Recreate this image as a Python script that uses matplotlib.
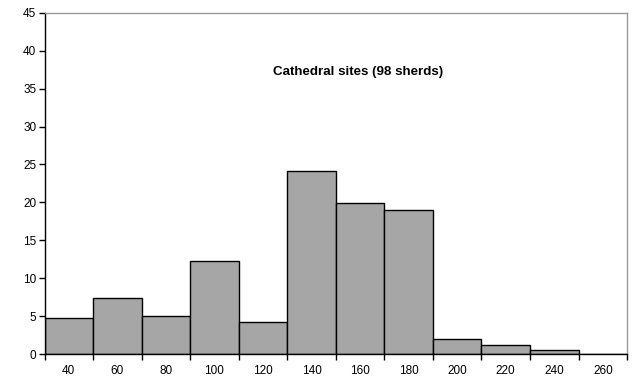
import matplotlib
matplotlib.use("Agg")
import matplotlib.pyplot as plt
import numpy as np

plt.rcParams['font.family'] = ['Liberation Sans', 'DejaVu Sans']

categories = ["40", "60", "80", "100", "120", "140", "160", "180", "200", "220", "240", "260"]
values = [4.8, 7.4, 5.05, 12.25, 4.2, 24.15, 19.9, 19.0, 1.93, 1.14, 0.48, 0.0]
title = "Cathedral sites (98 sherds)"

fig = plt.figure(figsize=(6.36, 3.83), dpi=100)
ax = fig.add_axes([0.070, 0.0757, 0.916, 0.891])

x = np.arange(len(categories))
ax.bar(x, values, width=1.0, color="#a6a6a6", edgecolor="black", linewidth=1.0)

ax.set_xlim(-0.5, len(categories) - 0.5)
ax.set_ylim(0, 45)
ax.set_yticks(np.arange(0, 46, 5))

ax.set_xticks(np.arange(-0.5, len(categories) + 0.5, 1.0))
ax.set_xticklabels([])
ax.set_xticks(x, minor=True)
ax.set_xticklabels(categories, minor=True)
ax.tick_params(axis='x', which='minor', length=0, pad=8, labelsize=8.5)
ax.tick_params(axis='x', which='major', length=4, direction='out', width=1)
ax.tick_params(axis='y', length=4, direction='out', width=1, labelsize=8.5, pad=2)

for s in ['left', 'bottom']:
    ax.spines[s].set_color('black')
    ax.spines[s].set_linewidth(1.0)
for s in ['top', 'right']:
    ax.spines[s].set_color('#999999')
    ax.spines[s].set_linewidth(1.0)

ax.text(0.539, 0.825, title, transform=ax.transAxes, ha='center', va='center',
        fontsize=9.6, fontweight='bold')

fig.savefig("out.png", dpi=100)
